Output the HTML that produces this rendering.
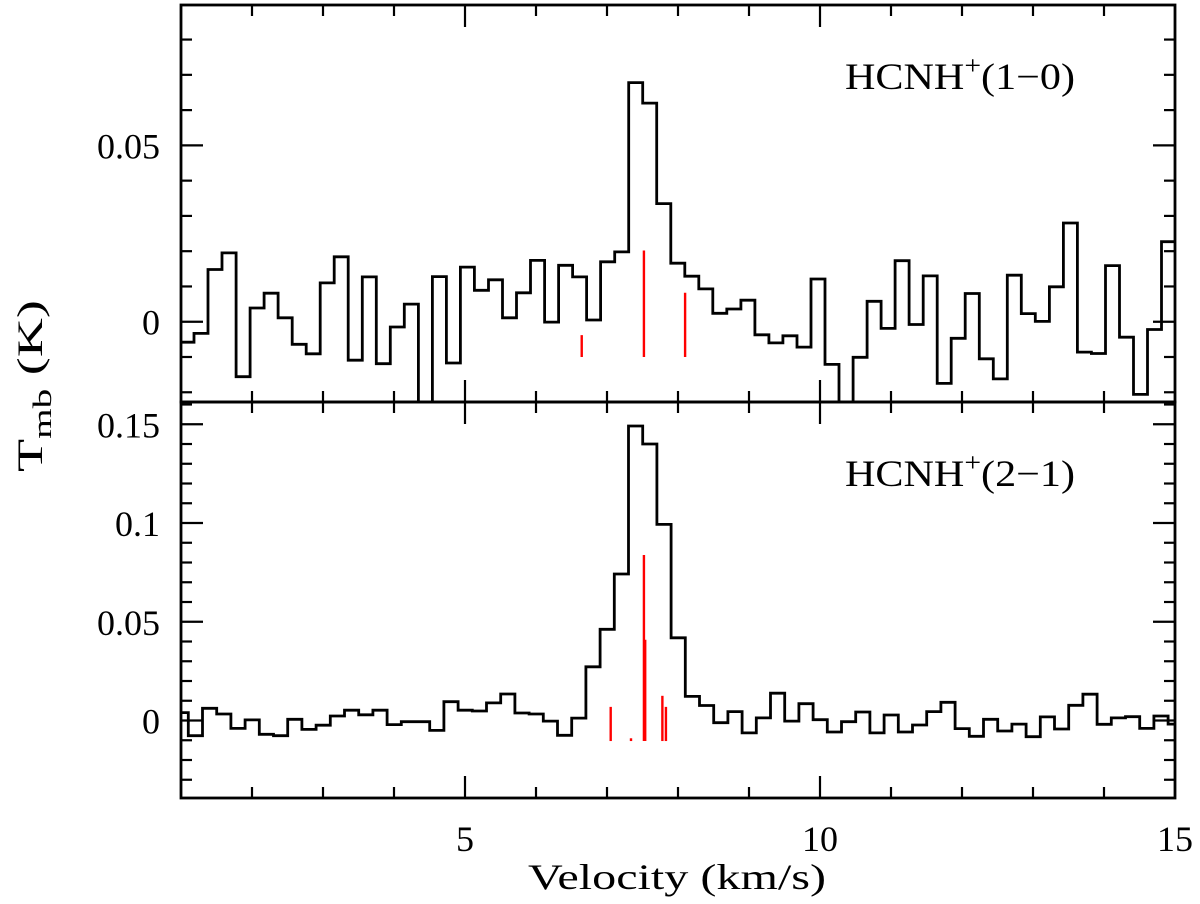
<!DOCTYPE html>
<html><head><meta charset="utf-8"><style>
html,body{margin:0;padding:0;background:#fff;}
svg{display:block;}
text{font-family:"Liberation Serif",serif;fill:#000;}
</style></head><body>
<svg id="chart" width="1200" height="904" viewBox="0 0 1200 904" xmlns="http://www.w3.org/2000/svg">
<g id="g"></g>
</svg>
<script>
// ---- data ----
const topStart = 1.183, topWidth = 0.1975;
const topValues = [-0.0058,-0.0033,0.0148,0.0195,-0.0156,0.0039,0.0081,0.0011,-0.0064,-0.0091,0.011,0.0184,-0.0109,0.0127,-0.0119,-0.0015,0.005,-0.03,0.0128,-0.0117,0.0155,0.0089,0.0119,0.0011,0.0082,0.0174,-0.0001,0.016,0.0127,0.0005,0.017,0.0198,0.0678,0.062,0.0335,0.0166,0.0129,0.0093,0.0024,0.0036,0.0061,-0.0037,-0.006,-0.004,-0.0072,0.0121,-0.0121,-0.028,-0.0101,0.0058,-0.0019,0.0173,-0.0008,0.013,-0.0175,-0.0047,0.008,-0.0105,-0.0162,0.0132,0.0023,0.0001,0.0099,0.028,-0.0086,-0.009,0.0159,-0.0044,-0.0206,-0.0022,0.0227];
const botStart = 1.103, botWidth = 0.2;
const botValues = [0.004,-0.0077,0.0062,0.0033,-0.004,0.0003,-0.007,-0.0077,0.0006,-0.0045,-0.0024,0.0023,0.0052,0.0029,0.0052,-0.0021,-0.0006,-0.0006,-0.005,0.0095,0.0052,0.0048,0.0089,0.0134,0.0038,0.0033,-0.0003,-0.0075,0.0012,0.0272,0.0462,0.0742,0.1491,0.14,0.0993,0.0419,0.0122,0.0076,-0.0011,0.0045,-0.0063,0.0013,0.0138,-0.0003,0.0085,0.0004,-0.0058,-0.0006,0.0043,-0.0063,0.0028,-0.0058,-0.0023,0.0045,0.0092,-0.0041,-0.008,0.0006,-0.0053,-0.0018,-0.0082,0.0018,-0.0043,0.0077,0.0133,-0.0019,0.0013,0.0019,-0.004,0.0023,-0.0018];
const topHfsVel = [6.644, 7.52, 8.10];
const topHfsTop = [-0.0038, 0.0202, 0.0082];
const topHfsBase = -0.0100;
const botHfsVel = [7.052, 7.338, 7.52, 7.538, 7.78, 7.83];
const botHfsTop = [0.0069, -0.009, 0.0838, 0.0409, 0.0125, 0.0069];
const botHfsBase = -0.0104;
const xTickLabels = ["5","10","15"];
const topYTickLabels = ["0","0.05"];
const botYTickLabels = ["0","0.05","0.1","0.15"];

// ---- layout ----
const X0=181, X1=1175, XMIN=1, XMAX=15;
const panels = {
  top:{y0:5,y1:402,vmin:-0.02276,vmax:0.0898},
  bot:{y0:402,y1:798,vmin:-0.03924,vmax:0.16127}
};
const sx = v => X0 + (v-XMIN)/(XMAX-XMIN)*(X1-X0);
const syF = p => v => p.y1 - (v-p.vmin)/(p.vmax-p.vmin)*(p.y1-p.y0);
const NS="http://www.w3.org/2000/svg";
const g=document.getElementById('g');
function mk(tag, attrs, parent){const e=document.createElementNS(NS,tag);for(const k in attrs)e.setAttribute(k,attrs[k]);(parent||g).appendChild(e);return e;}

function drawPanel(key, start, width, values, hv, ht, hb, yLabels, title){
  const p=panels[key], sy=syF(p);
  const grp=mk('g',{});
  
  
  const cp=mk('clipPath',{id:'clip-'+key},grp);
  mk('rect',{x:X0,y:p.y0,width:X1-X0,height:p.y1-p.y0},cp);
  let d='';
  for(let i=0;i<values.length;i++){
    const a=Math.max(XMIN,start+(i-1)*width), b=start+i*width;
    const y=sy(values[i]);
    d+=(i===0?'M':'L')+sx(a).toFixed(1)+','+y.toFixed(1)+'L'+sx(b).toFixed(1)+','+y.toFixed(1);
  }
  const path=mk('path',{d:d,fill:'none',stroke:'#000','stroke-width':2.8,'clip-path':'url(#clip-'+key+')'},grp);
  
  
  for(let i=0;i<hv.length;i++){
    const l=mk('line',{x1:sx(hv[i]),x2:sx(hv[i]),y1:sy(hb),y2:sy(ht[i]),stroke:'#f00','stroke-width':2.4},grp);
    
    
  }
  const fr=mk('rect',{x:X0,y:p.y0,width:X1-X0,height:p.y1-p.y0,fill:'none',stroke:'#000','stroke-width':2.8},grp);
  
  
  for(let v=2; v<=14; v++){
    const big=v%5===0, L=big?22:11, x=sx(v);
    mk('line',{x1:x,x2:x,y1:p.y1,y2:p.y1-L,stroke:'#000','stroke-width':2.2},grp);
    mk('line',{x1:x,x2:x,y1:p.y0,y2:p.y0+L,stroke:'#000','stroke-width':2.2},grp);
  }
  for(let k=Math.ceil(p.vmin*100); k<=Math.floor(p.vmax*100); k++){
    const v=k/100, big=k%5===0, L=big?22:11, y=sy(v);
    mk('line',{x1:X0,x2:X0+L,y1:y,y2:y,stroke:'#000','stroke-width':2.2},grp);
    mk('line',{x1:X1,x2:X1-L,y1:y,y2:y,stroke:'#000','stroke-width':2.2},grp);
  }
  yLabels.forEach(s=>{
    const t=mk('text',{x:160,y:sy(parseFloat(s))+13,'font-size':36,'text-anchor':'end'},grp);
    t.textContent=s;
    
    
  });
  const tt=mk('text',{x:845,y:p.y0+84,'font-size':37,textLength:230,lengthAdjust:'spacingAndGlyphs'},grp);
  tt.innerHTML=title;
  
  
}
drawPanel('top',topStart,topWidth,topValues,topHfsVel,topHfsTop,topHfsBase,topYTickLabels,'HCNH<tspan dy="-15" font-size="26">+</tspan><tspan dy="15">(1−0)</tspan>');
drawPanel('bot',botStart,botWidth,botValues,botHfsVel,botHfsTop,botHfsBase,botYTickLabels,'HCNH<tspan dy="-15" font-size="26">+</tspan><tspan dy="15">(2−1)</tspan>');

xTickLabels.forEach(s=>{
  const t=mk('text',{x:sx(parseFloat(s)),y:851,'font-size':36,'text-anchor':'middle'});
  t.textContent=s;
  
  
});
const xl=mk('text',{x:528,y:889,'font-size':36,textLength:298,lengthAdjust:'spacingAndGlyphs'});
xl.textContent='Velocity (km/s)';


const yl=mk('text',{x:0,y:0,'font-size':36,transform:'translate(42,472) rotate(-90)',textLength:172,lengthAdjust:'spacingAndGlyphs'});
yl.innerHTML='T<tspan dy="9" font-size="26">mb</tspan><tspan dy="-9"> (K)</tspan>';


</script>
</body></html>
